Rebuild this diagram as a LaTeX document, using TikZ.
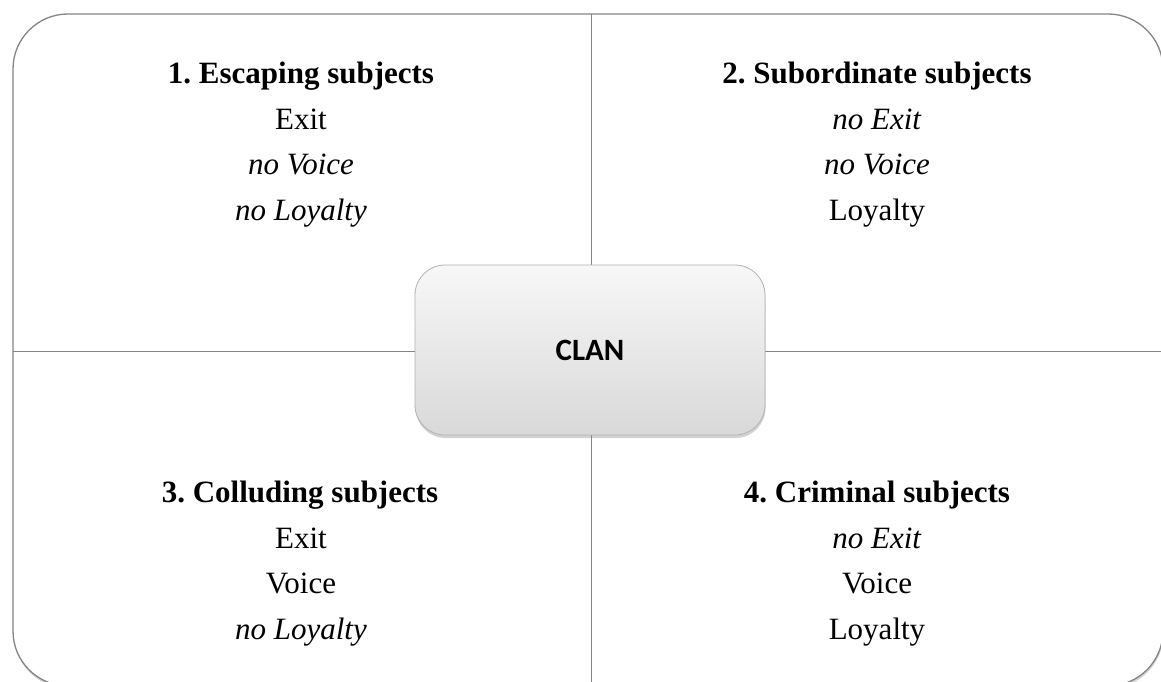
\documentclass[tikz,border=0pt]{standalone}
\usepackage{fontspec}
\setmainfont{Liberation Serif}
\newfontfamily\clanfont{Carlito}
\usetikzlibrary{shadows}
\definecolor{linegray}{HTML}{858585}
\frenchspacing
\begin{document}
\begin{tikzpicture}[x=1pt,y=-1pt,
  frame/.style={draw=linegray, line width=1.3pt, rounded corners=55pt, fill=white,
    drop shadow={shadow xshift=0.5pt, shadow yshift=-2.5pt, opacity=0.35}},
  divider/.style={draw=linegray, line width=1pt},
  clanbox/.style={draw=gray!60, line width=0.8pt, rounded corners=30pt,
    top color=white!97!black, bottom color=white!85!black,
    minimum width=350pt, minimum height=170pt,
    drop shadow={shadow xshift=0.5pt, shadow yshift=-3pt, opacity=0.35},
    font=\clanfont\bfseries\fontsize{31}{31}\selectfont},
  ttl/.style={font=\frenchspacing\bfseries\fontsize{31}{31}\selectfont, anchor=base, inner sep=0pt},
  item/.style={font=\fontsize{31}{31}\selectfont, anchor=base, inner sep=0pt},
]
\useasboundingbox (0,0) rectangle (1161,682);
\clip (0,0) rectangle (1161,682);
\path[frame] (13,14) rectangle (1163,686);
\coordinate (vt) at (591,14);
\coordinate (vb) at (591,686);
\coordinate (hl) at (13,351);
\coordinate (hr) at (1163,351);
\draw[divider] (vt) -- (vb);
\draw[divider] (hl) -- (hr);
\node[clanbox] (clan) at (590,350) {CLAN};
% Quadrant 1
\node[ttl]  (t1) at (301,84)  {1. Escaping subjects};
\node[item] (a1) at (301,129) {Exit};
\node[item] (b1) at (301,174) {\textit{no Voice}};
\node[item] (c1) at (301,220) {\textit{no Loyalty}};
% Quadrant 2
\node[ttl]  (t2) at (877,84)  {2. Subordinate subjects};
\node[item] (a2) at (877,129) {\textit{no Exit}};
\node[item] (b2) at (877,174) {\textit{no Voice}};
\node[item] (c2) at (877,220) {Loyalty};
% Quadrant 3
\node[ttl]  (t3) at (300,502) {3. Colluding subjects};
\node[item] (a3) at (301,548) {Exit};
\node[item] (b3) at (301,593) {Voice};
\node[item] (c3) at (301,639) {\textit{no Loyalty}};
% Quadrant 4
\node[ttl]  (t4) at (877,502) {4. Criminal subjects};
\node[item] (a4) at (877,548) {\textit{no Exit}};
\node[item] (b4) at (877,593) {Voice};
\node[item] (c4) at (877,639) {Loyalty};
\end{tikzpicture}
\end{document}
